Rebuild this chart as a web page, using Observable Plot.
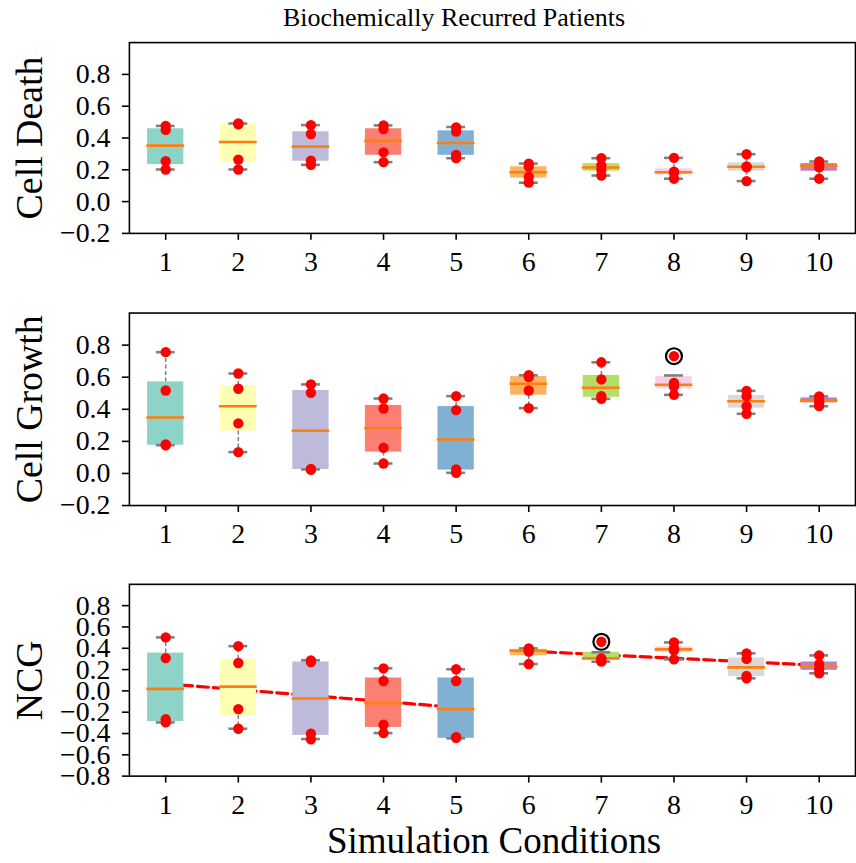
<!DOCTYPE html>
<html><head><meta charset="utf-8">
<script src="https://cdn.jsdelivr.net/npm/d3@7"></script>
<script src="https://cdn.jsdelivr.net/npm/@observablehq/plot@0.6"></script>
<style>
body{margin:0;background:#fff;}
#wrap{position:relative;width:856px;height:863px;overflow:hidden;font-family:"Liberation Serif",serif;color:#000;}
#wrap svg{position:absolute;left:0;}
.txt{position:absolute;white-space:nowrap;transform:translateX(-50%);}
</style></head><body><div id="wrap"></div>
<script>
// ---- data ----
const conditions = [1, 2, 3, 4, 5, 6, 7, 8, 9, 10];
const boxColors = ["#8dd3c7", "#ffffb3", "#bebada", "#fb8072", "#80b1d3", "#fdb462", "#b3de69", "#fccde5", "#d9d9d9", "#bc80bd"];
const yTicksSmall = [-0.2, 0.0, 0.2, 0.4, 0.6, 0.8];
const yTicksNCG = [-0.8, -0.6, -0.4, -0.2, 0.0, 0.2, 0.4, 0.6, 0.8];

// Cell Death
const deathQ1  = [0.233, 0.248, 0.254, 0.291, 0.291, 0.148, 0.191, 0.169, 0.191, 0.191];
const deathMed = [0.352, 0.375, 0.346, 0.381, 0.369, 0.185, 0.214, 0.185, 0.219, 0.225];
const deathQ3  = [0.458, 0.491, 0.439, 0.458, 0.445, 0.219, 0.239, 0.206, 0.244, 0.239];
const deathLo  = [0.202, 0.202, 0.231, 0.248, 0.273, 0.119, 0.164, 0.144, 0.129, 0.144];
const deathHi  = [0.476, 0.491, 0.481, 0.479, 0.469, 0.239, 0.273, 0.275, 0.298, 0.252];
const deathPoints = [
  [0.476, 0.451, 0.254, 0.202], [0.492, 0.486, 0.264, 0.202], [0.481, 0.425, 0.258, 0.231],
  [0.479, 0.456, 0.310, 0.248], [0.466, 0.440, 0.294, 0.273], [0.239, 0.220, 0.156, 0.119],
  [0.273, 0.228, 0.200, 0.164], [0.275, 0.188, 0.182, 0.144], [0.298, 0.222, 0.216, 0.129],
  [0.252, 0.235, 0.215, 0.144]];
const deathFliers = [];

// Cell Growth
const growthQ1  = [0.176, 0.264, 0.025, 0.133, 0.021, 0.488, 0.475, 0.527, 0.407, 0.440];
const growthMed = [0.349, 0.419, 0.266, 0.282, 0.212, 0.559, 0.534, 0.553, 0.450, 0.455];
const growthQ3  = [0.571, 0.548, 0.517, 0.424, 0.417, 0.604, 0.611, 0.604, 0.486, 0.471];
const growthLo  = [0.176, 0.133, 0.025, 0.062, 0.004, 0.407, 0.465, 0.490, 0.372, 0.419];
const growthHi  = [0.756, 0.623, 0.555, 0.467, 0.482, 0.612, 0.693, 0.611, 0.515, 0.480];
const growthPoints = [
  [0.756, 0.517, 0.181, 0.176], [0.623, 0.528, 0.312, 0.133], [0.555, 0.503, 0.029, 0.022],
  [0.467, 0.405, 0.160, 0.062], [0.482, 0.395, 0.025, 0.004], [0.612, 0.601, 0.517, 0.407],
  [0.693, 0.586, 0.482, 0.465], [0.565, 0.542, 0.490], [0.515, 0.482, 0.419, 0.372],
  [0.480, 0.460, 0.440, 0.420]];
const growthFliers = [[8, 0.731]];

// NCG
const ncgQ1  = [-0.287, -0.231, -0.418, -0.343, -0.445, 0.330, 0.303, 0.364, 0.134, 0.193];
const ncgMed = [0.019, 0.040, -0.072, -0.115, -0.171, 0.377, 0.305, 0.390, 0.221, 0.227];
const ncgQ3  = [0.355, 0.296, 0.271, 0.121, 0.121, 0.390, 0.362, 0.414, 0.308, 0.271];
const ncgLo  = [-0.296, -0.355, -0.452, -0.396, -0.445, 0.252, 0.274, 0.296, 0.118, 0.165];
const ncgHi  = [0.502, 0.420, 0.287, 0.212, 0.203, 0.399, 0.362, 0.455, 0.352, 0.333];
const ncgPoints = [
  [0.502, 0.308, -0.265, -0.296], [0.420, 0.262, -0.171, -0.355], [0.287, 0.270, -0.402, -0.455],
  [0.212, 0.093, -0.318, -0.396], [0.203, 0.093, -0.435, -0.440], [0.399, 0.385, 0.370, 0.252],
  [0.305, 0.290, 0.274], [0.455, 0.400, 0.380, 0.296], [0.352, 0.300, 0.140, 0.118],
  [0.333, 0.250, 0.204, 0.165]];
const ncgFliers = [[7, 0.461]];

// ---- build ----
const BOX_HALF = 0.25, CAP_HALF = 0.13, MED_HALF = 0.26;
function makePanel(cfg) {
  const stats = conditions.map((c, i) => ({cond: c, q1: cfg.q1[i], med: cfg.med[i], q3: cfg.q3[i], lo: cfg.lo[i], hi: cfg.hi[i]}));
  const pts = cfg.points.flatMap((arr, i) => arr.map(v => ({cond: conditions[i], value: v, group: conditions[i] <= 5 ? "a" : "b"})));
  const fl = cfg.fliers.map(([c, v]) => ({cond: c, value: v, group: c <= 5 ? "a" : "b"}));
  const marks = [];
  if (cfg.regression) {
    marks.push(Plot.linearRegressionY(pts.concat(fl), {x: "cond", y: "value", z: "group", stroke: "#ff0000", strokeWidth: 3.2, strokeDasharray: "11,5", ci: 0}));
  }
  marks.push(
    Plot.rect(stats, {x1: d => d.cond - BOX_HALF, x2: d => d.cond + BOX_HALF, y1: "q1", y2: "q3", fill: "cond"}),
    Plot.ruleX(stats, {x: "cond", y1: "q3", y2: "hi", stroke: "#808080", strokeWidth: 1.5, strokeDasharray: "4,2.5"}),
    Plot.ruleX(stats, {x: "cond", y1: "q1", y2: "lo", stroke: "#808080", strokeWidth: 1.5, strokeDasharray: "4,2.5"}),
    Plot.ruleY(stats, {y: "hi", x1: d => d.cond - CAP_HALF, x2: d => d.cond + CAP_HALF, stroke: "#808080", strokeWidth: 2.6}),
    Plot.ruleY(stats, {y: "lo", x1: d => d.cond - CAP_HALF, x2: d => d.cond + CAP_HALF, stroke: "#808080", strokeWidth: 2.6}),
    Plot.ruleY(stats, {y: "med", x1: d => d.cond - MED_HALF, x2: d => d.cond + MED_HALF, stroke: "#ff7f0e", strokeWidth: 2.6}),
    Plot.dot(fl, {x: "cond", y: "value", r: 8, stroke: "black", strokeWidth: 2.2, fill: "none"}),
    Plot.dot(pts.concat(fl), {x: "cond", y: "value", r: 5.2, fill: "#ff0000"}),
    Plot.frame({stroke: "black", strokeWidth: 1.6}),
    Plot.axisX({ticks: conditions, tickSize: 7, tickPadding: 11, fontSize: 28, strokeWidth: 1.6, label: null, tickFormat: d => String(d)}),
    Plot.axisY({ticks: cfg.yTicks, tickSize: 7, tickPadding: 12, fontSize: 28, strokeWidth: 1.6, label: null, tickFormat: d3.format(".1f")}),
    Plot.text([cfg.label], {text: d => d, frameAnchor: "left", textAnchor: "middle", rotate: -90, dx: -99.5, fontSize: 38, lineAnchor: "middle"})
  );
  const svg = Plot.plot({
    width: 860, height: cfg.height,
    marginLeft: 129.5, marginRight: 1, marginTop: cfg.mt, marginBottom: cfg.mb,
    x: {type: "linear", domain: [0.5, 10.5], axis: null},
    y: {domain: cfg.ydomain, axis: null},
    color: {type: "ordinal", domain: conditions, range: boxColors},
    style: {fontFamily: "'Liberation Serif', serif", background: "transparent", color: "black"},
    marks
  });
  svg.style.top = cfg.top + "px";
  return svg;
}

const wrap = document.getElementById("wrap");
wrap.appendChild(makePanel({top: 0, height: 280, mt: 42.3, mb: 46, ydomain: [-0.2, 1.0], yTicks: yTicksSmall, label: "Cell Death",
  q1: deathQ1, med: deathMed, q3: deathQ3, lo: deathLo, hi: deathHi, points: deathPoints, fliers: deathFliers}));
wrap.appendChild(makePanel({top: 280, height: 270, mt: 32.7, mb: 43.9, ydomain: [-0.2, 1.0], yTicks: yTicksSmall, label: "Cell Growth",
  q1: growthQ1, med: growthMed, q3: growthQ3, lo: growthLo, hi: growthHi, points: growthPoints, fliers: growthFliers}));
wrap.appendChild(makePanel({top: 550, height: 270, mt: 34, mb: 43.3, ydomain: [-0.8, 1.0], yTicks: yTicksNCG, label: "NCG",
  q1: ncgQ1, med: ncgMed, q3: ncgQ3, lo: ncgLo, hi: ncgHi, points: ncgPoints, fliers: ncgFliers, regression: true}));

const title = document.createElement("div");
title.className = "txt"; title.textContent = "Biochemically Recurred Patients";
Object.assign(title.style, {left: "454px", top: "3px", fontSize: "26px", lineHeight: "30px"});
wrap.appendChild(title);
const xlab = document.createElement("div");
xlab.className = "txt"; xlab.textContent = "Simulation Conditions";
Object.assign(xlab.style, {left: "494px", top: "822px", fontSize: "37px", lineHeight: "38px"});
wrap.appendChild(xlab);
</script></body></html>
